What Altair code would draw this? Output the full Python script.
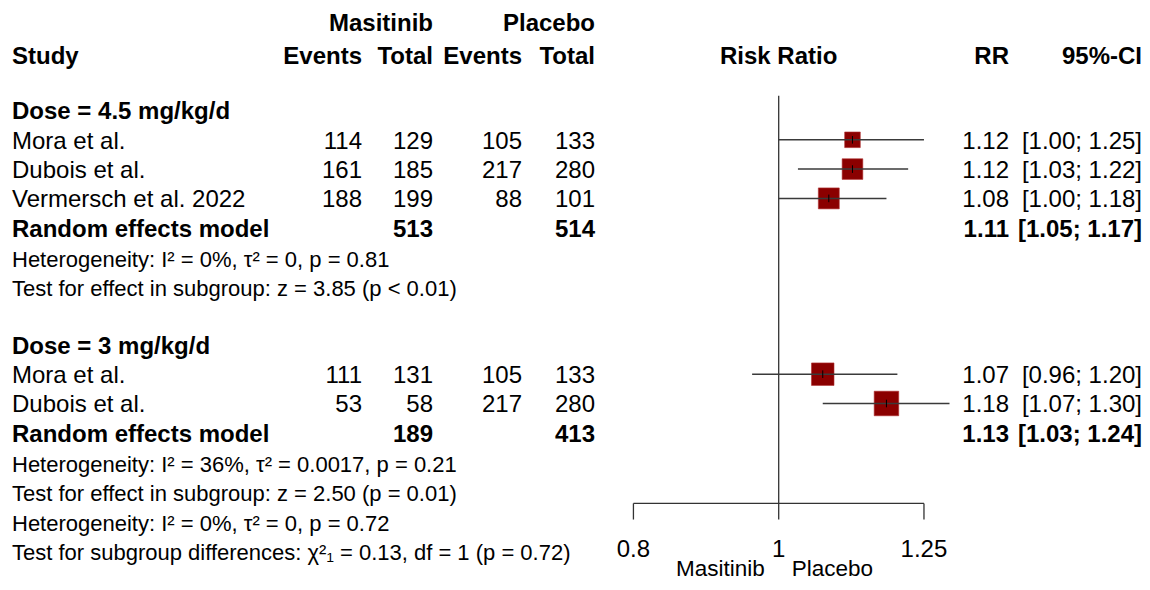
import altair as alt
import pandas as pd

# ---------------- data ----------------
group_titles = ["Dose = 4.5 mg/kg/d", "Dose = 3 mg/kg/d"]
study = ["Mora et al.", "Dubois et al.", "Vermersch et al. 2022", "Mora et al.", "Dubois et al."]
study_group = [0, 0, 0, 1, 1]
mas_events = [114, 161, 188, 111, 53]
mas_total = [129, 185, 199, 131, 58]
pla_events = [105, 217, 88, 105, 217]
pla_total = [133, 280, 101, 133, 280]
rr = [1.12, 1.12, 1.08, 1.07, 1.18]
rr_lower = [1.00, 1.03, 1.00, 0.96, 1.07]
rr_upper = [1.25, 1.22, 1.18, 1.20, 1.30]
weight = [22.0, 38.5, 39.5, 45.7, 54.3]  # estimated from square sizes

pooled_label = "Random effects model"
pooled_rr = [1.11, 1.13]
pooled_lower = [1.05, 1.03]
pooled_upper = [1.17, 1.24]
pooled_mas_total = [513, 189]
pooled_pla_total = [514, 413]

het_text = ["Heterogeneity: I² = 0%, τ² = 0, p = 0.81",
            "Heterogeneity: I² = 36%, τ² = 0.0017, p = 0.21"]
effect_text = ["Test for effect in subgroup: z = 3.85 (p < 0.01)",
               "Test for effect in subgroup: z = 2.50 (p = 0.01)"]
overall_het = "Heterogeneity: I² = 0%, τ² = 0, p = 0.72"
subgroup_test = "Test for subgroup differences: χ²₁ = 0.13, df = 1 (p = 0.72)"

axis_ticks = [0.8, 1.0, 1.25]
axis_tick_labels = ["0.8", "1", "1.25"]
left_label = "Masitinib"
right_label = "Placebo"
header_groups = ["Masitinib", "Placebo"]
header_cols = ["Study", "Events", "Total", "Events", "Total", "Risk Ratio", "RR", "95%-CI"]

# ---------------- layout (rows) ----------------
group_rows, study_rows, pooled_rows, het_rows, eff_rows = [], [None] * len(study), [], [], []
r = 0
for g in range(len(group_titles)):
    group_rows.append(r); r += 1
    for i, sg in enumerate(study_group):
        if sg == g:
            study_rows[i] = r; r += 1
    pooled_rows.append(r); r += 1
    het_rows.append(r + 0.03); r += 1
    eff_rows.append(r + 0.03); r += 2
overall_het_row = eff_rows[-1] + 1.0
subgroup_row = eff_rows[-1] + 2.0
HEAD1, HEAD2 = -3.02, -1.89
AXIS_ROW = 13.41
TICK_LEN = 0.55
TICKLAB_ROW = 14.92
SIDELAB_ROW = 16.07   # bottom of the text box, kept inside the page
REF_TOP = -0.5

FONT = "Liberation Sans"
FS = 24
FS_HET = 22
FS_SIDE = 22.5
TEXT_DY = 2

W, H = 1134, 566
xscale = alt.Scale(type="log", domain=[0.30610, 1.74727], nice=False)
yscale = alt.Scale(domain=[-3.498, 15.819], reverse=True, nice=False, zero=False)


def Y(field="row"):
    return alt.Y(f"{field}:Q", scale=yscale, axis=None)


def fmt(v):
    return f"{v:.2f}"


# study table
sdf = pd.DataFrame({
    "study": study, "row": study_rows,
    "me": [str(v) for v in mas_events], "mt": [str(v) for v in mas_total],
    "pe": [str(v) for v in pla_events], "pt": [str(v) for v in pla_total],
    "rr": rr, "lo": rr_lower, "hi": rr_upper, "w": weight,
    "rrs": [fmt(v) for v in rr],
    "ci": [f"[{fmt(a)}; {fmt(b)}]" for a, b in zip(rr_lower, rr_upper)],
})
pdf = pd.DataFrame({
    "label": [pooled_label] * len(pooled_rr), "row": pooled_rows,
    "mt": [str(v) for v in pooled_mas_total], "pt": [str(v) for v in pooled_pla_total],
    "rrs": [fmt(v) for v in pooled_rr],
    "ci": [f"[{fmt(a)}; {fmt(b)}]" for a, b in zip(pooled_lower, pooled_upper)],
})


def text_layer(df, field, xpx, align="left", bold=False, size=FS, color="black"):
    return alt.Chart(df).mark_text(
        align=align, baseline="middle", font=FONT, fontSize=size, dy=TEXT_DY,
        fontWeight="bold" if bold else "normal", color=color
    ).encode(x=alt.value(xpx), y=Y(), text=f"{field}:N")


X_STUDY = 4
X_ME, X_MT, X_PE, X_PT = 354, 425, 514, 587
X_RR, X_CI = 1001, 1134

layers = []

# headers
h1 = pd.DataFrame({"t": [header_groups[0]], "row": [HEAD1]})
h1b = pd.DataFrame({"t": [header_groups[1]], "row": [HEAD1]})
layers.append(text_layer(h1, "t", X_MT, "right", True))
layers.append(text_layer(h1b, "t", X_PT, "right", True))
for txt, xp, al in [(header_cols[0], X_STUDY, "left"), (header_cols[1], X_ME, "right"),
                    (header_cols[2], X_MT, "right"), (header_cols[3], X_PE, "right"),
                    (header_cols[4], X_PT, "right"), (header_cols[6], X_RR, "right"),
                    (header_cols[7], X_CI, "right")]:
    layers.append(text_layer(pd.DataFrame({"t": [txt], "row": [HEAD2]}), "t", xp, al, True))
layers.append(alt.Chart(pd.DataFrame({"t": [header_cols[5]], "x": [1.0], "row": [HEAD2]})).mark_text(
    align="center", baseline="middle", font=FONT, fontSize=FS, fontWeight="bold", dy=TEXT_DY
).encode(x=alt.X("x:Q", scale=xscale, axis=None), y=Y(), text="t:N"))

# group titles
gdf = pd.DataFrame({"t": group_titles, "row": group_rows})
layers.append(text_layer(gdf, "t", X_STUDY, "left", True))

# study rows
layers.append(text_layer(sdf, "study", X_STUDY))
layers.append(text_layer(sdf, "me", X_ME, "right"))
layers.append(text_layer(sdf, "mt", X_MT, "right"))
layers.append(text_layer(sdf, "pe", X_PE, "right"))
layers.append(text_layer(sdf, "pt", X_PT, "right"))
layers.append(text_layer(sdf, "rrs", X_RR, "right"))
layers.append(text_layer(sdf, "ci", X_CI, "right"))

# pooled rows
layers.append(text_layer(pdf, "label", X_STUDY, "left", True))
layers.append(text_layer(pdf, "mt", X_MT, "right", True))
layers.append(text_layer(pdf, "pt", X_PT, "right", True))
layers.append(text_layer(pdf, "rrs", X_RR, "right", True))
layers.append(text_layer(pdf, "ci", X_CI, "right", True))

# heterogeneity texts
hdf = pd.DataFrame({
    "t": het_text + effect_text + [overall_het, subgroup_test],
    "row": het_rows + eff_rows + [overall_het_row, subgroup_row],
})
layers.append(text_layer(hdf, "t", X_STUDY, "left", False, FS_HET))

# reference line at 1
refdf = pd.DataFrame({"x": [1.0], "y": [REF_TOP], "y2": [AXIS_ROW]})
layers.append(alt.Chart(refdf).mark_rule(color="#333333", strokeWidth=1.3).encode(
    x=alt.X("x:Q", scale=xscale, axis=None), y=Y("y"), y2="y2:Q"))

# squares, CI lines, centre ticks
layers.append(alt.Chart(sdf).mark_square(filled=True, color="#8B0000", opacity=1,
                                         stroke="#b03030", strokeWidth=0.6).encode(
    x=alt.X("rr:Q", scale=xscale, axis=None), y=Y(),
    size=alt.Size("w:Q", scale=alt.Scale(domain=[0, 55], range=[0, 610], zero=True), legend=None)))
layers.append(alt.Chart(sdf).mark_rule(color="#3a3a3a", strokeWidth=1.5).encode(
    x=alt.X("lo:Q", scale=xscale, axis=None), x2="hi:Q", y=Y()))
layers.append(alt.Chart(sdf).transform_calculate(
    ya="datum.row - 0.13", yb="datum.row + 0.13"
).mark_rule(color="black", strokeWidth=1).encode(
    x=alt.X("rr:Q", scale=xscale, axis=None), y=Y("ya"), y2="yb:Q"))

# diamonds
drows = []
for k in range(len(pooled_rr)):
    rw = pooled_rows[k]
    drows += [
        {"g": k, "x": pooled_lower[k], "ya": rw, "yb": rw},
        {"g": k, "x": pooled_rr[k], "ya": rw - 0.26, "yb": rw + 0.26},
        {"g": k, "x": pooled_upper[k], "ya": rw, "yb": rw},
    ]
ddf = pd.DataFrame(drows)
layers.append(alt.Chart(ddf).mark_area(color="black", opacity=1).encode(
    x=alt.X("x:Q", scale=xscale, axis=None), y=Y("ya"), y2="yb:Q",
    detail="g:N", order="x:Q"))

# axis drawn from tick list
adf = pd.DataFrame({"x": [axis_ticks[0]], "x2": [axis_ticks[-1]], "row": [AXIS_ROW]})
layers.append(alt.Chart(adf).mark_rule(color="#333333", strokeWidth=1.3).encode(
    x=alt.X("x:Q", scale=xscale, axis=None), x2="x2:Q", y=Y()))
tdf = pd.DataFrame({"x": axis_ticks, "lab": axis_tick_labels,
                    "ya": [AXIS_ROW] * len(axis_ticks), "yb": [AXIS_ROW + TICK_LEN] * len(axis_ticks),
                    "row": [TICKLAB_ROW] * len(axis_ticks)})
layers.append(alt.Chart(tdf).mark_rule(color="#333333", strokeWidth=1.3).encode(
    x=alt.X("x:Q", scale=xscale, axis=None), y=Y("ya"), y2="yb:Q"))
layers.append(alt.Chart(tdf).mark_text(align="center", baseline="middle", font=FONT, fontSize=FS, dy=TEXT_DY).encode(
    x=alt.X("x:Q", scale=xscale, axis=None), y=Y(), text="lab:N"))

sdl = pd.DataFrame({"x": [1.0], "row": [SIDELAB_ROW], "l": [left_label], "r": [right_label]})
layers.append(alt.Chart(sdl).mark_text(align="right", baseline="bottom", font=FONT, fontSize=FS_SIDE,
                                       dx=-14).encode(
    x=alt.X("x:Q", scale=xscale, axis=None), y=Y(), text="l:N"))
layers.append(alt.Chart(sdl).mark_text(align="left", baseline="bottom", font=FONT, fontSize=FS_SIDE,
                                       dx=13).encode(
    x=alt.X("x:Q", scale=xscale, axis=None), y=Y(), text="r:N"))

chart = alt.layer(*layers).properties(
    width=W, height=H,
    padding={"left": 0, "top": 0, "right": 0, "bottom": 8},
    autosize=alt.AutoSizeParams(type="none"),
    background="white",
).configure_view(stroke=None)

chart.save("out.html", embed_options={"renderer": "svg", "actions": False})
